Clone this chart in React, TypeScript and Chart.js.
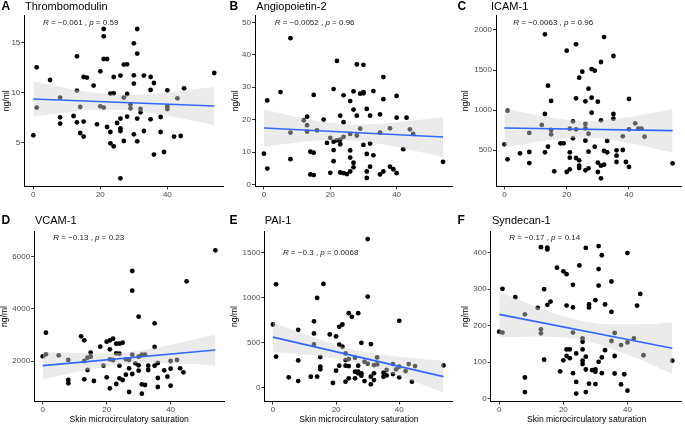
import React, { useEffect, useRef } from 'react';
import { Chart, registerables } from 'chart.js';

Chart.register(...registerables);

const FONT = '"Liberation Sans", Arial, Helvetica, sans-serif';
Chart.defaults.font.family = FONT;

// ---------- shared ----------
const xTicks = [0, 20, 40];
const xMin = -2.7;
const xMax = 56.7;
const fitX = [0, 54];
const bandX = [0, 9, 18, 27, 36, 45, 54];

// ---------- A: Thrombomodulin ----------
const thrX = [0,1,1,5,8,8,8,12,13,13,13,14,14,15,15,15,16,18,19,20,20,21,21,21,21,22,22,23,23,23,24,24,24,25,26,26,26,26,26,27,27,27,28,28,28,29,29,30,30,30,30,31,31,31,31,32,32,33,33,35,35,35,36,36,38,38,39,40,40,40,42,43,44,45,54];
const thrY = [5.7,12.5,8.47,11.23,9.47,7.5,6.87,7.63,13.6,10.17,7.0,8.53,5.93,11.53,7.07,5.57,11.47,10.67,6.8,12.1,8.6,16.33,15.6,13.33,8.47,13.33,6.53,9.87,6.03,4.9,11.53,9.9,4.6,6.93,11.67,7.37,6.4,6.13,1.4,12.77,9.47,5.13,12.8,9.83,7.57,8.8,8.4,14.9,11.7,10.87,5.8,16.33,13.87,7.37,5.1,8.33,8.0,11.67,6.13,11.53,10.23,7.3,10.93,3.77,7.53,6.03,4.03,10.2,8.6,8.33,5.57,9.4,5.63,10.4,11.93];
const thrFit = [9.33, 8.63];
const thrUpper = [11.08, 10.48, 9.98, 9.73, 9.85, 10.17, 10.55];
const thrLower = [7.58, 7.94, 8.22, 8.23, 7.87, 7.33, 6.71];
const thrTicks = [5, 10, 15];

// ---------- B: Angiopoietin-2 ----------
const angX = [0,1,1,5,8,8,8,12,13,13,13,14,14,15,15,15,16,18,19,20,20,21,21,21,21,22,22,23,23,23,23,24,24,24,24,25,26,26,26,26,26,27,27,27,27,28,28,28,29,29,30,30,30,30,31,31,31,31,32,32,32,33,33,35,35,35,36,36,36,38,38,39,40,40,40,42,43,44,45,54];
const angY = [9.5,25.9,4.9,28.5,45.1,16.0,7.8,19.8,20.9,18.3,16.3,10.1,3.1,27.6,9.8,2.9,16.7,20.0,12.8,14.4,3.6,29.4,13.2,10.6,7.2,13.6,38.1,13.8,21.2,12.4,3.7,27.5,19.2,14.7,3.5,3.2,25.7,15.6,10.5,8.3,4.0,28.7,23.1,6.7,5.3,37.0,21.2,15.1,28.0,17.2,36.9,28.5,28.1,12.2,23.3,9.4,4.0,2.0,21.2,12.6,5.5,28.8,9.0,21.6,16.0,3.1,33.1,26.3,4.0,17.3,5.5,4.7,27.3,20.6,3.5,10.9,20.6,17.0,15.6,7.0];
const angFit = [17.4, 14.65];
const angUpper = [23.1, 21.07, 19.34, 18.47, 18.8, 19.74, 20.8];
const angLower = [11.7, 12.81, 13.62, 13.57, 12.34, 10.48, 8.5];
const angTicks = [0, 10, 20, 30, 40, 50];

// ---------- C: ICAM-1 ----------
const icamX = [0,1,1,5,8,8,8,12,13,13,13,14,14,15,15,15,16,18,19,20,20,21,21,21,21,22,22,23,23,23,23,24,24,24,24,25,26,26,26,26,26,27,27,27,27,28,28,28,29,29,30,30,30,31,31,31,31,32,32,32,33,33,35,35,35,36,36,36,38,38,39,40,40,40,42,43,44,45,54];
const icamY = [571,992,383,458,713,475,337,813,1946,950,471,1304,542,1113,750,696,233,583,583,1742,225,767,471,404,258,858,646,1821,1146,758,400,1404,371,304,275,1479,1108,825,771,617,246,1267,704,479,271,1512,1154,967,1492,542,1104,342,225,1600,871,304,146,1912,488,317,613,471,1675,950,892,496,429,350,671,500,350,1138,758,288,833,767,767,667,333];
const icamFit = [775, 742];
const icamUpper = [1020, 947, 887, 864, 892, 947, 1017];
const icamLower = [530, 592, 641, 653, 614, 548, 467];
const icamTicks = [500, 1000, 1500, 2000];

// ---------- D: VCAM-1 ----------
const vcamX = [0,1,1,5,8,8,8,12,13,13,13,14,14,15,15,16,18,19,20,20,21,21,21,21,22,22,23,23,23,24,24,24,24,25,25,26,26,27,27,27,28,28,28,28,29,30,30,30,30,31,31,31,32,32,33,33,35,35,35,36,36,36,38,39,40,40,40,42,43,44,45,54];
const vcamY = [2179,2256,3086,2217,2038,1272,1144,2946,2792,2000,1297,2128,1655,2320,2166,1233,2550,1821,2741,1374,2792,2447,2064,952,2856,2038,2665,2294,1118,2665,2281,1821,1335,2703,1272,2064,1476,2038,1719,811,5451,4697,2243,1502,1911,3700,2166,1834,1629,2243,1105,748,2243,1080,1821,1655,3444,2537,1821,1923,1348,1003,1642,1399,2000,1706,1054,2038,1719,1565,5054,6243];
const vcamFit = [1821, 2422];
const vcamUpper = [2351, 2305, 2287, 2349, 2522, 2753, 3022];
const vcamLower = [1291, 1537, 1755, 1895, 1922, 1891, 1822];
const vcamTicks = [2000, 4000, 6000];

// ---------- E: PAI-1 ----------
const paiX = [0,1,1,5,8,8,8,12,13,13,13,14,14,15,15,15,16,18,19,20,20,21,21,21,22,22,23,23,23,23,24,24,24,24,25,26,26,26,27,27,27,27,28,28,28,29,29,30,30,30,31,31,31,32,32,32,33,33,35,35,36,36,38,38,39,40,40,40,42,43,44,45,54];
const paiY = [700,1148,341,111,641,300,70,119,735,600,478,996,119,337,230,200,1152,589,48,567,185,674,474,241,700,452,378,304,241,63,826,315,237,100,785,330,174,100,826,241,174,156,496,156,130,285,70,1652,1011,263,482,119,33,248,156,81,333,256,163,119,193,133,259,148,200,741,230,111,181,259,63,237,244];
const paiFit = [559, 119];
const paiUpper = [722, 604, 494, 409, 358, 325, 297];
const paiLower = [396, 368, 330, 269, 174, 59, -59];
const paiTicks = [0, 500, 1000, 1500];

// ---------- F: Syndecan-1 ----------
const synX = [0,1,1,5,8,8,8,12,13,13,13,14,14,15,15,15,16,18,19,20,20,21,21,21,21,22,22,23,23,23,23,24,24,24,25,26,26,26,26,26,27,27,27,27,28,28,28,29,30,30,30,30,31,31,31,31,32,32,32,33,33,35,35,35,36,36,36,38,38,39,40,40,40,42,43,44,45,54];
const synY = [183.6,181,301,278,231,58,18,249,415,190,179,300,107,414,409,257,266,359,75,349,105,341,255,135,117,135,111,312,250,181,70,124,46,14,365,165,156,135,104,95,413,115,80,18,258,250,41,78,270,80,74,40,418,355,310,101,393,113,70,258,133,321,238,158,180,117,69,147,39,67,399,154,22,165,255,287,119,104];
const synFit = [231, 138];
const synUpper = [293, 260, 231, 211, 204, 204, 209];
const synLower = [169, 170, 169, 158, 134, 103, 67];
const synTicks = [0, 100, 200, 300, 400];

type Rect = { x: number; y: number; w: number; h: number };
type Plot = { l: number; r: number; t: number; b: number };
type PanelCfg = {
  canvas: Rect; plot: Plot; yMin: number; yMax: number; yTicks: number[];
  xs: number[]; ys: number[]; fit: number[]; upper: number[]; lower: number[];
  letter: string; letterX: number; title: string; titleX: number; headY: number;
  r: string; p: string; annX: number; annY: number; yTitleX: number; xTitle: boolean;
};

const panels: PanelCfg[] = [
  { canvas: { x: 0, y: 0, w: 228, h: 200 }, plot: { l: 24.3, r: 223.3, t: 15, b: 186.5 }, yMin: 0.58, yMax: 17.73, yTicks: thrTicks,
    xs: thrX, ys: thrY, fit: thrFit, upper: thrUpper, lower: thrLower,
    letter: 'A', letterX: 1.5, title: 'Thrombomodulin', titleX: 25, headY: 7,
    r: '0.061', p: '0.59', annX: 43, annY: 22.3, yTitleX: 6.5, xTitle: false },
  { canvas: { x: 228, y: 0, w: 228, h: 200 }, plot: { l: 255, r: 453.4, t: 15, b: 186.5 }, yMin: -0.62, yMax: 52.25, yTicks: angTicks,
    xs: angX, ys: angY, fit: angFit, upper: angUpper, lower: angLower,
    letter: 'B', letterX: 229.5, title: 'Angiopoietin-2', titleX: 256.3, headY: 7,
    r: '0.0052', p: '0.96', annX: 274.7, annY: 22.3, yTitleX: 235.3, xTitle: false },
  { canvas: { x: 456, y: 0, w: 229, h: 200 }, plot: { l: 496, r: 682.5, t: 15, b: 186.5 }, yMin: 43.75, yMax: 2187.5, yTicks: icamTicks,
    xs: icamX, ys: icamY, fit: icamFit, upper: icamUpper, lower: icamLower,
    letter: 'C', letterX: 457.5, title: 'ICAM-1', titleX: 491, headY: 7,
    r: '0.0063', p: '0.96', annX: 513.3, annY: 22.3, yTitleX: 466, xTitle: false },
  { canvas: { x: 0, y: 205, w: 228, h: 220 }, plot: { l: 34.1, r: 224.1, t: 231.5, b: 401.5 }, yMin: 447, yMax: 6966, yTicks: vcamTicks,
    xs: vcamX, ys: vcamY, fit: vcamFit, upper: vcamUpper, lower: vcamLower,
    letter: 'D', letterX: 1.5, title: 'VCAM-1', titleX: 35, headY: 221,
    r: '0.13', p: '0.23', annX: 53.3, annY: 237.3, yTitleX: 5, xTitle: true },
  { canvas: { x: 228, y: 205, w: 228, h: 220 }, plot: { l: 264.4, r: 453.4, t: 231.5, b: 401.5 }, yMin: -158, yMax: 1736, yTicks: paiTicks,
    xs: paiX, ys: paiY, fit: paiFit, upper: paiUpper, lower: paiLower,
    letter: 'E', letterX: 229.5, title: 'PAI-1', titleX: 264.7, headY: 221,
    r: '0.3', p: '0.0068', annX: 283, annY: 252.7, yTitleX: 235, xTitle: true },
  { canvas: { x: 456, y: 205, w: 229, h: 220 }, plot: { l: 490.6, r: 682.7, t: 231.5, b: 401.5 }, yMin: -7.7, yMax: 458, yTicks: synTicks,
    xs: synX, ys: synY, fit: synFit, upper: synUpper, lower: synLower,
    letter: 'F', letterX: 457.5, title: 'Syndecan-1', titleX: 492, headY: 221,
    r: '0.17', p: '0.14', annX: 509.3, annY: 237.3, yTitleX: 466, xTitle: true },
];

function Panel({ cfg }: { cfg: PanelCfg }) {
  const ref = useRef<HTMLCanvasElement>(null);
  const c = cfg.canvas;
  const p = cfg.plot;

  useEffect(() => {
    if (!ref.current) return;
    const textPlugin = {
      id: 'panelText',
      afterDraw(chart: any) {
        const ctx = chart.ctx as CanvasRenderingContext2D;
        ctx.save();
        ctx.textBaseline = 'middle';
        ctx.textAlign = 'left';
        ctx.fillStyle = '#000';
        ctx.font = `bold 12px ${FONT}`;
        ctx.fillText(cfg.letter, cfg.letterX - c.x, cfg.headY - c.y);
        ctx.font = `11px ${FONT}`;
        ctx.fillText(cfg.title, cfg.titleX - c.x, cfg.headY - c.y);

        let ax = cfg.annX - c.x;
        const ay = cfg.annY - c.y;
        ctx.fillStyle = '#222';
        const parts: [string, boolean][] = [
          ['R', true], [' = \u2212' + cfg.r + ' , ', false], ['p', true], [' = ' + cfg.p, false],
        ];
        for (const [txt, it] of parts) {
          ctx.font = `${it ? 'italic ' : ''}8px ${FONT}`;
          ctx.fillText(txt, ax, ay);
          ax += ctx.measureText(txt).width;
        }

        ctx.fillStyle = '#000';
        ctx.font = `8.6px ${FONT}`;
        ctx.save();
        ctx.translate(cfg.yTitleX - c.x, (p.t + p.b) / 2 - c.y);
        ctx.rotate(-Math.PI / 2);
        ctx.textAlign = 'center';
        ctx.fillText('ng/ml', 0, 0);
        ctx.restore();

        if (cfg.xTitle) {
          ctx.textAlign = 'center';
          ctx.fillText('Skin microcirculatory saturation', (p.l + p.r) / 2 - c.x, 420 - c.y);
        }
        ctx.restore();
      },
    };

    const axisCommon = {
      grid: { display: true, drawOnChartArea: false, drawTicks: true, tickLength: 3, color: '#333', lineWidth: 1 },
      border: { display: true, color: '#000', width: 1 },
    };

    const chart = new Chart(ref.current, {
      type: 'scatter',
      data: {
        datasets: [
          {
            type: 'line',
            data: fitX.map((x, i) => ({ x, y: cfg.fit[i] })),
            borderColor: '#3366FF', borderWidth: 1.6, pointRadius: 0, fill: false,
          } as any,
          {
            type: 'line',
            data: bandX.map((x, i) => ({ x, y: cfg.upper[i] })),
            borderColor: 'transparent', borderWidth: 0, pointRadius: 0,
            backgroundColor: 'rgba(210,210,210,0.45)', fill: '+1', cubicInterpolationMode: 'monotone',
          } as any,
          {
            type: 'line',
            data: bandX.map((x, i) => ({ x, y: cfg.lower[i] })),
            borderColor: 'transparent', borderWidth: 0, pointRadius: 0,
            fill: false, cubicInterpolationMode: 'monotone',
          } as any,
          {
            type: 'scatter',
            data: cfg.xs.map((x, i) => ({ x, y: cfg.ys[i] })),
            backgroundColor: '#000', borderWidth: 0, pointRadius: 2.4,
          } as any,
        ],
      },
      options: {
        responsive: false,
        animation: false,
        events: [],
        layout: { padding: { left: 0, top: p.t - c.y, right: c.x + c.w - p.r, bottom: 0 } },
        plugins: { legend: { display: false }, tooltip: { enabled: false } },
        scales: {
          x: {
            type: 'linear', min: xMin, max: xMax,
            afterBuildTicks: (axis: any) => { axis.ticks = xTicks.map((v) => ({ value: v })); },
            afterFit: (axis: any) => { axis.height = c.y + c.h - p.b; },
            ticks: { color: '#4d4d4d', font: { size: 8, lineHeight: 1 }, padding: 1, maxRotation: 0, callback: (v: any) => String(v) },
            ...axisCommon,
          },
          y: {
            type: 'linear', min: cfg.yMin, max: cfg.yMax,
            afterBuildTicks: (axis: any) => { axis.ticks = cfg.yTicks.map((v) => ({ value: v })); },
            afterFit: (axis: any) => { axis.width = p.l - c.x; },
            ticks: { color: '#4d4d4d', font: { size: 8, lineHeight: 1 }, padding: 1, callback: (v: any) => String(v) },
            ...axisCommon,
          },
        },
      } as any,
      plugins: [textPlugin],
    });
    return () => chart.destroy();
  }, []);

  return (
    <canvas
      ref={ref}
      width={c.w}
      height={c.h}
      style={{ position: 'absolute', left: c.x, top: c.y, width: c.w, height: c.h }}
    />
  );
}

export default function App() {
  return (
    <div style={{ position: 'fixed', left: 0, top: 0, width: 685, height: 425, background: '#fff', overflow: 'hidden' }}>
      {panels.map((cfg) => (
        <Panel key={cfg.letter} cfg={cfg} />
      ))}
    </div>
  );
}
